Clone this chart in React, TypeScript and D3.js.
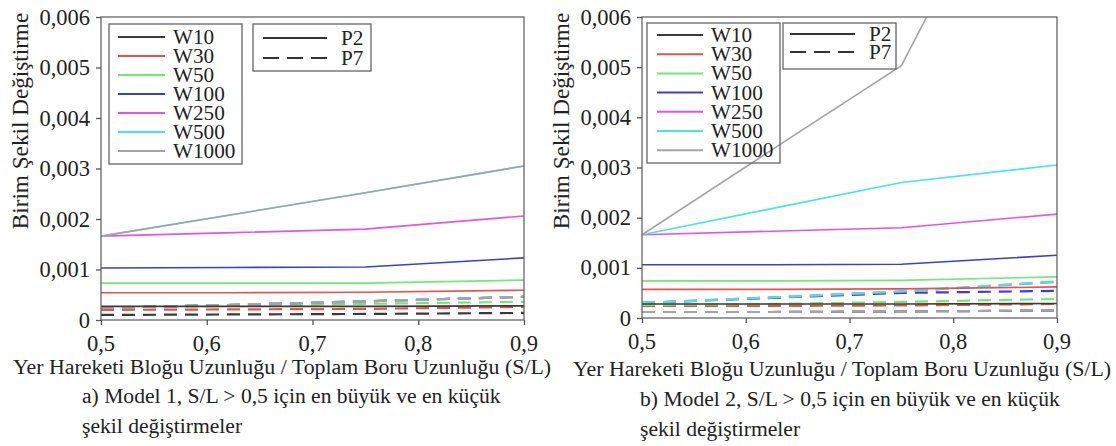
import { useEffect, useRef } from 'react'
import * as d3 from 'd3'

// S/L values where the curves are sampled
const slRatio = [0.5, 0.625, 0.75, 0.9]
const seriesNames = ['W10', 'W30', 'W50', 'W100', 'W250', 'W500', 'W1000']
const seriesColors = ['#3a3a3a', '#e8524c', '#74e874', '#3e3ed4', '#e454e4', '#44e6e6', '#a4a4a4']
const profileNames = ['P2', 'P7']
const xTicks = [0.5, 0.6, 0.7, 0.8, 0.9]
const yTicks = [0, 0.001, 0.002, 0.003, 0.004, 0.005, 0.006]

// Model 1, P2 (solid) per series
const model1P2 = [
  [0.00027, 0.00027, 0.00027, 0.00028],
  [0.00054, 0.00054, 0.00055, 0.00059],
  [0.00073, 0.00073, 0.00073, 0.00079],
  [0.00103, 0.00104, 0.00105, 0.00123],
  [0.00166, 0.00173, 0.0018, 0.00206],
  [0.00166, 0.00209, 0.00252, 0.00305],
  [0.00166, 0.00209, 0.00252, 0.00305],
]
// Model 1, P7 (dashed)
const model1P7 = [
  [0.0001, 0.00011, 0.00012, 0.00014],
  [0.0002, 0.00021, 0.00022, 0.00026],
  [0.00024, 0.00028, 0.00032, 0.00036],
  [0.00024, 0.0003, 0.00037, 0.00046],
  [0.00024, 0.0003, 0.00037, 0.00046],
  [0.00024, 0.0003, 0.00037, 0.00046],
  [0.00024, 0.0003, 0.00037, 0.00046],
]
// Model 2, P2 (solid)
const model2P2 = [
  [0.00028, 0.00028, 0.00028, 0.00029],
  [0.00057, 0.00057, 0.00058, 0.00062],
  [0.00074, 0.00074, 0.00075, 0.00082],
  [0.00106, 0.00106, 0.00107, 0.00125],
  [0.00166, 0.00173, 0.0018, 0.00207],
  [0.00166, 0.00218, 0.0027, 0.00305],
  [0.00166, 0.00335, 0.00503, 0.011],
]
// Model 2, P7 (dashed)
const model2P7 = [
  [0.00012, 0.00012, 0.00013, 0.00015],
  [0.00024, 0.00024, 0.00025, 0.00028],
  [0.00026, 0.00028, 0.00032, 0.00038],
  [0.0003, 0.0004, 0.0005, 0.00054],
  [0.0003, 0.00041, 0.00053, 0.00072],
  [0.0003, 0.00041, 0.00053, 0.00073],
  [0.00012, 0.00012, 0.00013, 0.00015],
]

const xTitle = 'Yer Hareketi Bloğu Uzunluğu / Toplam Boru Uzunluğu (S/L)'
const yTitle = 'Birim Şekil Değiştirme'

const FONT = 'Liberation Serif'
// larger sizes fall back to a sans face here, so text is set at 20px and scaled
const BASE = 20

const panels = [
  {
    key: 'a',
    p2: model1P2,
    p7: model1P7,
    caption: ['a) Model 1, S/L > 0,5 için en büyük ve en küçük', 'şekil değiştirmeler'],
    left: 101, right: 524, top: 17, bottom: 320,
    yTitleX: 28, xTitleX: 282, xTitleY: 374, capX: 82, capY: 403,
    lg1: { x: 109, y: 24, w: 133, h: 140, lx1: 118, lx2: 165, tx: 173, row0: 37, step: 19 },
    lg2: { x: 253, y: 24, w: 118, h: 47, lx1: 263, lx2: 327, tx: 341, row0: 38, step: 20 },
  },
  {
    key: 'b',
    p2: model2P2,
    p7: model2P7,
    caption: ['b) Model 2, S/L > 0,5 için en büyük ve en küçük', 'şekil değiştirmeler'],
    left: 642, right: 1057, top: 17, bottom: 318,
    yTitleX: 569, xTitleX: 842, xTitleY: 376, capX: 640, capY: 406,
    lg1: { x: 647, y: 23, w: 133, h: 140, lx1: 657, lx2: 703, tx: 711, row0: 35, step: 19.2 },
    lg2: { x: 783, y: 23, w: 113, h: 46, lx1: 790, lx2: 855, tx: 869, row0: 34, step: 18 },
  },
]

const locale = d3.formatLocale({ decimal: ',', thousands: '.', grouping: [3], currency: ['', ''] })
const fmtY = locale.format('.3f')
const fmtX = locale.format('.1f')

const addText = (
  parent: d3.Selection<SVGGElement, unknown, null, undefined>,
  str: string,
  x: number,
  y: number,
  size: number,
  anchor = 'start',
  rotate = 0
) => {
  parent
    .append('text')
    .attr('transform', `translate(${x},${y}) rotate(${rotate}) scale(${size / BASE})`)
    .attr('font-family', FONT)
    .attr('font-size', BASE)
    .attr('text-anchor', anchor)
    .attr('fill', '#222')
    .text(str)
}

const App = () => {
  const svgRef = useRef<SVGSVGElement>(null)

  useEffect(() => {
    const svg = d3.select(svgRef.current)
    svg.selectAll('*').remove()

    panels.forEach((cfg) => {
      const g = svg.append('g')
      const x = d3.scaleLinear().domain([0.5, 0.9]).range([cfg.left, cfg.right])
      const y = d3.scaleLinear().domain([0, 0.006]).range([cfg.bottom, cfg.top])

      const clipId = 'clip-' + cfg.key
      g.append('clipPath')
        .attr('id', clipId)
        .append('rect')
        .attr('x', cfg.left)
        .attr('y', cfg.top)
        .attr('width', cfg.right - cfg.left)
        .attr('height', cfg.bottom - cfg.top)

      const line = d3
        .line<number>()
        .x((_, i) => x(slRatio[i]))
        .y((d) => y(d))

      const lines = g.append('g').attr('clip-path', `url(#${clipId})`)
      // dashed first, solid on top
      cfg.p7.forEach((vals, s) => {
        lines
          .append('path')
          .attr('d', line(vals))
          .attr('fill', 'none')
          .attr('stroke', seriesColors[s])
          .attr('stroke-width', 2.2)
          .attr('stroke-dasharray', '13,8')
      })
      cfg.p2.forEach((vals, s) => {
        lines
          .append('path')
          .attr('d', line(vals))
          .attr('fill', 'none')
          .attr('stroke', seriesColors[s])
          .attr('stroke-width', 1.6)
      })

      // frame
      g.append('rect')
        .attr('x', cfg.left)
        .attr('y', cfg.top)
        .attr('width', cfg.right - cfg.left)
        .attr('height', cfg.bottom - cfg.top)
        .attr('fill', 'none')
        .attr('stroke', '#666')
        .attr('stroke-width', 1.3)

      // axes (tick marks only, labels set below)
      const yAxis = g
        .append('g')
        .attr('transform', `translate(${cfg.left},0)`)
        .call(d3.axisLeft(y).tickValues(yTicks).tickSize(5).tickSizeOuter(0).tickFormat(() => ''))
      const xAxis = g
        .append('g')
        .attr('transform', `translate(0,${cfg.bottom})`)
        .call(d3.axisBottom(x).tickValues(xTicks).tickSize(5).tickSizeOuter(0).tickFormat(() => ''))
      ;[yAxis, xAxis].forEach((ax) => {
        ax.select('.domain').remove()
        ax.selectAll('text').remove()
        ax.selectAll('line').attr('stroke', '#555').attr('stroke-width', 1.3)
      })

      yTicks.forEach((v) => {
        addText(g, v === 0 ? '0' : fmtY(v), cfg.left - 11, y(v) + 7.5, 22.5, 'end')
      })
      xTicks.forEach((v) => {
        addText(g, fmtX(v), x(v), cfg.bottom + 31, 22.5, 'middle')
      })

      // titles
      addText(g, yTitle, cfg.yTitleX, 121, 23.2, 'middle', -90)
      addText(g, xTitle, cfg.xTitleX, cfg.xTitleY, 21.9, 'middle')
      cfg.caption.forEach((c, i) => {
        addText(g, c, cfg.capX, cfg.capY + i * 30, 21.6)
      })

      // legend 1: series colours
      const l1 = cfg.lg1
      g.append('rect')
        .attr('x', l1.x)
        .attr('y', l1.y)
        .attr('width', l1.w)
        .attr('height', l1.h)
        .attr('fill', 'none')
        .attr('stroke', '#666')
        .attr('stroke-width', 1.3)
      seriesNames.forEach((name, i) => {
        const cy = l1.row0 + i * l1.step
        g.append('line')
          .attr('x1', l1.lx1)
          .attr('x2', l1.lx2)
          .attr('y1', cy)
          .attr('y2', cy)
          .attr('stroke', seriesColors[i])
          .attr('stroke-width', 2)
        addText(g, name, l1.tx, cy + 7, 21.2)
      })

      // legend 2: line styles
      const l2 = cfg.lg2
      g.append('rect')
        .attr('x', l2.x)
        .attr('y', l2.y)
        .attr('width', l2.w)
        .attr('height', l2.h)
        .attr('fill', 'none')
        .attr('stroke', '#666')
        .attr('stroke-width', 1.3)
      profileNames.forEach((name, i) => {
        const cy = l2.row0 + i * l2.step
        g.append('line')
          .attr('x1', l2.lx1)
          .attr('x2', l2.lx2)
          .attr('y1', cy)
          .attr('y2', cy)
          .attr('stroke', '#333')
          .attr('stroke-width', 1.8)
          .attr('stroke-dasharray', i ? '16,8' : null)
        addText(g, name, l2.tx, cy + 7, 21.2)
      })
    })
  }, [])

  return (
    <svg
      ref={svgRef}
      width={1116}
      height={446}
      style={{ position: 'absolute', left: 0, top: 0, background: '#fff' }}
    />
  )
}

export default App
